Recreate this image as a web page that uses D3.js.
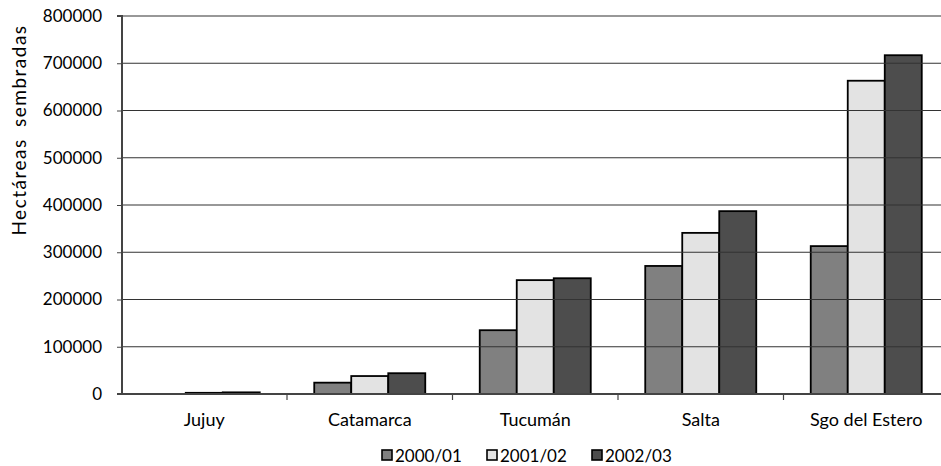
<!DOCTYPE html>
<html><head><meta charset="utf-8">
<script src="https://cdn.jsdelivr.net/npm/d3@7"></script>
<style>body{margin:0;background:#fff}svg{display:block}text{font-family:"Lato","Open Sans",sans-serif;fill:#000}</style>
</head><body><svg id="c" width="941" height="466"></svg>
<script>
const categories = ["Jujuy","Catamarca","Tucumán","Salta","Sgo del Estero"];
const seriesNames = ["2000/01","2001/02","2002/03"];
const v2000 = [0, 24000, 135000, 271000, 313000];
const v2001 = [2500, 38000, 241000, 341000, 663000];
const v2002 = [3500, 44000, 245000, 387000, 717000];
const yTicks = [0,100000,200000,300000,400000,500000,600000,700000,800000];
const colors = ["#808080","#e3e3e3","#4d4d4d"];
const series = [v2000, v2001, v2002];
const FS = 17;

const svg = d3.select("#c");
const x = d3.scaleBand().domain(categories).range([121.5, 949]).paddingInner(0).paddingOuter(0);
const x1 = d3.scaleBand().domain(seriesNames).range([0, x.bandwidth()]).paddingOuter(0.736).paddingInner(0);
const y = d3.scaleLinear().domain([0, 800000]).range([394, 16]);

// bars
categories.forEach((c, i) => {
  seriesNames.forEach((s, j) => {
    const val = series[j][i];
    if (val <= 0) return;
    svg.append("rect")
      .attr("x", x(c) + x1(s))
      .attr("y", y(val))
      .attr("width", x1.bandwidth())
      .attr("height", y(0) - y(val))
      .attr("fill", colors[j])
      .attr("stroke", "#000").attr("stroke-width", 1.8);
  });
});

// gridlines on top
svg.append("g").selectAll("line").data(yTicks.filter(d => d > 0)).join("line")
  .attr("x1", 122).attr("x2", 941)
  .attr("y1", d => y(d)).attr("y2", d => y(d))
  .attr("stroke", "#333").attr("stroke-width", 1.2);

// y axis
const ya = svg.append("g").attr("transform", "translate(122,0)")
  .call(d3.axisLeft(y).tickValues(yTicks).tickFormat(d3.format("d")).tickSize(5).tickPadding(4));
ya.attr("font-size", FS).attr("font-family", "Lato, 'Open Sans', sans-serif");
ya.select(".domain").attr("stroke", "#444").attr("stroke-width", 2).attr("d", "M-5,16H0V394H-5");
ya.selectAll(".tick line").attr("stroke", "#444");
ya.selectAll(".tick text").attr("fill", "#000").attr("x", -20);

// x axis
const xa = svg.append("g").attr("transform", "translate(0,394)")
  .call(d3.axisBottom(x).tickSize(0).tickPadding(19));
xa.attr("font-size", 18).attr("font-family", "Lato, 'Open Sans', sans-serif");
xa.select(".domain").attr("stroke", "#444").attr("stroke-width", 2).attr("d", "M122,0H941");
xa.selectAll(".tick text").attr("fill", "#000");
const edges = categories.map(c => x(c)).concat([x(categories[categories.length-1]) + x.bandwidth()]);
svg.append("g").selectAll("line").data(edges.slice(1, -1)).join("line")
  .attr("x1", d => d).attr("x2", d => d).attr("y1", 394).attr("y2", 400)
  .attr("stroke", "#444").attr("stroke-width", 1.2);

// y title
svg.append("text").attr("transform", "translate(26,130) rotate(-90)")
  .attr("text-anchor", "middle").attr("font-size", 19).attr("letter-spacing", 1.5).attr("word-spacing", 5)
  .text("Hectáreas sembradas");

// legend
const legX = [382, 487, 592];
const lg = svg.append("g");
seriesNames.forEach((s, j) => {
  lg.append("rect").attr("x", legX[j]).attr("y", 450).attr("width", 10).attr("height", 10)
    .attr("fill", colors[j]).attr("stroke", "#000").attr("stroke-width", 1.6);
  lg.append("text").attr("x", legX[j] + 13).attr("y", 462).attr("font-size", FS).text(s);
});
</script></body></html>
